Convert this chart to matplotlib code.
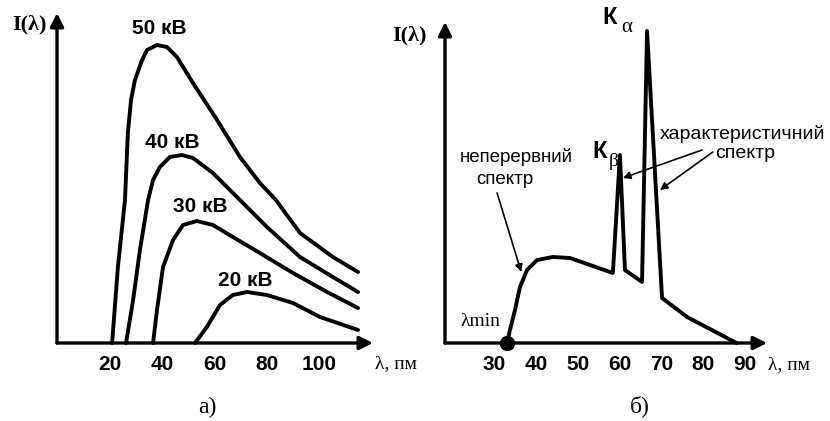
import matplotlib
matplotlib.use("Agg")
import matplotlib.pyplot as plt

# --- data ---
# a) continuous spectra for several tube voltages (lambda in pm, intensity arb.)
lam_50 = [21.0, 23.2, 25.9, 27.0, 28.2, 29.7, 32.4, 34.3, 38.1, 41.9, 45.7, 51.8,
          61.0, 69.7, 77.3, 83.4, 92.6, 105.1, 114.7]
int_50 = [0, 76, 143, 210, 243, 263, 283, 293, 298, 296, 286, 260,
          223, 186, 160, 143, 110, 86, 71]
lam_40 = [26.3, 29.0, 31.6, 34.7, 36.6, 39.2, 43.0, 47.6, 51.8, 59.4, 67.0, 69.7,
          80.0, 92.6, 105.1, 114.7]
int_40 = [0, 43, 93, 143, 163, 176, 186, 188, 185, 170, 150, 143,
          116, 86, 66, 51]
lam_30 = [36.6, 38.1, 40.4, 44.2, 48.0, 53.3, 59.4, 67.0, 77.3, 89.9, 102.9, 114.7]
int_30 = [0, 33, 76, 103, 118, 122, 118, 106, 90, 70, 51, 35]
lam_20 = [52.6, 57.1, 62.1, 67.0, 72.4, 80.0, 89.9, 100.2, 114.7]
int_20 = [0, 16, 38, 48, 51, 48, 40, 26, 13]
curves_a = [(lam_50, int_50), (lam_40, int_40), (lam_30, int_30), (lam_20, int_20)]
ticks_a = [20, 40, 60, 80, 100]

# b) continuous + characteristic spectrum
lam_b = [33.0, 33.7, 34.9, 36.1, 37.8, 40.2, 44.0, 48.1, 58.4, 60.1, 61.3, 65.4,
         66.6, 70.2, 76.2, 88.1]
int_b = [0, 13, 33, 56, 73, 83, 86, 85, 70, 188, 73, 61,
         312, 45, 26, 0]
ticks_b = [30, 40, 50, 60, 70, 80, 90]

W, H = 830, 421
SANS = "Liberation Sans"
SERIF = "Liberation Serif"


def fx(x, y):
    return x / W, 1 - y / H


fig = plt.figure(figsize=(W / 100, H / 100), dpi=100)

ax1 = fig.add_axes([57 / W, (H - 343) / H, (373 - 57) / W, (343 - 13) / H])
ax2 = fig.add_axes([445 / W, (H - 343) / H, (767 - 445) / W, (343 - 22) / H])

ax1.set_xlim(0, 120.4)
ax1.set_ylim(0, 330)
ax2.set_xlim(18.1, 95.4)
ax2.set_ylim(0, 321)

for ax, ticks in ((ax1, ticks_a), (ax2, ticks_b)):
    for s in ax.spines.values():
        s.set_visible(False)
    ax.set_yticks([])
    ax.set_xticks(ticks)
    ax.set_xticklabels([str(t) for t in ticks], fontfamily=SANS,
                       fontweight="bold", fontsize=15)
    ax.tick_params(axis="x", length=0, pad=9)
    ax.patch.set_alpha(0)
    arr = dict(arrowstyle="-|>", lw=2.4, color="k", mutation_scale=20,
               shrinkA=0, shrinkB=0)
    ax.annotate("", xy=(1, 0), xytext=(0, 0), xycoords="axes fraction",
                arrowprops=arr, annotation_clip=False)
    ax.annotate("", xy=(0, 1), xytext=(0, 0), xycoords="axes fraction",
                arrowprops=arr, annotation_clip=False)

for lam, inten in curves_a:
    ax1.plot(lam, inten, color="k", lw=2.8, solid_joinstyle="round",
             solid_capstyle="round", clip_on=False)

ax2.plot(lam_b, int_b, color="k", lw=2.8, solid_joinstyle="round",
         solid_capstyle="round", clip_on=False)
ax2.plot(lam_b[0], int_b[0], "o", color="k", ms=10, clip_on=False, zorder=5)

# labels panel a
bold = dict(fontfamily=SANS, fontweight="bold", fontsize=15,
            ha="center", va="center")
fig.text(*fx(159, 28), "50 кВ", **bold)
fig.text(*fx(172, 142), "40 кВ", **bold)
fig.text(*fx(200, 207), "30 кВ", **bold)
fig.text(*fx(245, 280), "20 кВ", **bold)

serif_b = dict(fontfamily=SERIF, fontweight="bold", fontsize=16,
               ha="center", va="center")
fig.text(*fx(29, 24), "I(λ)", **serif_b)
fig.text(*fx(409, 35), "I(λ)", **serif_b)

serif = dict(fontfamily=SERIF, fontsize=14, ha="left", va="center")
fig.text(*fx(375, 364), "λ, пм", **serif)
fig.text(*fx(768, 365), "λ, пм", **serif)

cap = dict(fontfamily=SERIF, fontsize=17, ha="center", va="center")
fig.text(*fx(207, 407), "а)", **cap)
fig.text(*fx(640, 406), "б)", **cap)

# labels panel b
kbold = dict(bold, fontsize=17)
fig.text(*fx(610, 18), "К", **kbold)
fig.text(*fx(627, 28), "α", fontfamily=SERIF, fontsize=15, ha="center", va="center")
fig.text(*fx(600, 151), "К", **kbold)
fig.text(*fx(614, 162), "β", fontfamily=SERIF, fontsize=14, ha="center", va="center")
fig.text(*fx(480, 321), "λmin", fontfamily=SERIF, fontsize=14, ha="center", va="center")

fig.text(*fx(516, 157), "неперервний", fontfamily=SANS, fontsize=13.5,
         ha="center", va="center")
fig.text(*fx(505, 179), "спектр", fontfamily=SANS, fontsize=13.5,
         ha="center", va="center")
fig.text(*fx(743, 134), "характеристичний", fontfamily=SANS, fontsize=14,
         ha="center", va="center")
fig.text(*fx(745, 153), "спектр", fontfamily=SANS, fontsize=14,
         ha="center", va="center")

thin = dict(arrowstyle="-|>", lw=1.2, color="k", mutation_scale=11,
            shrinkA=0, shrinkB=0)
ax2.annotate("", xy=(36.4, 71), xytext=(30.6, 150), arrowprops=thin,
             annotation_clip=False)
ax2.annotate("", xy=(60.8, 165), xytext=(79.8, 193), arrowprops=thin,
             annotation_clip=False)
ax2.annotate("", xy=(69.7, 153), xytext=(82.4, 191), arrowprops=thin,
             annotation_clip=False)

fig.savefig("out.png", dpi=100)
